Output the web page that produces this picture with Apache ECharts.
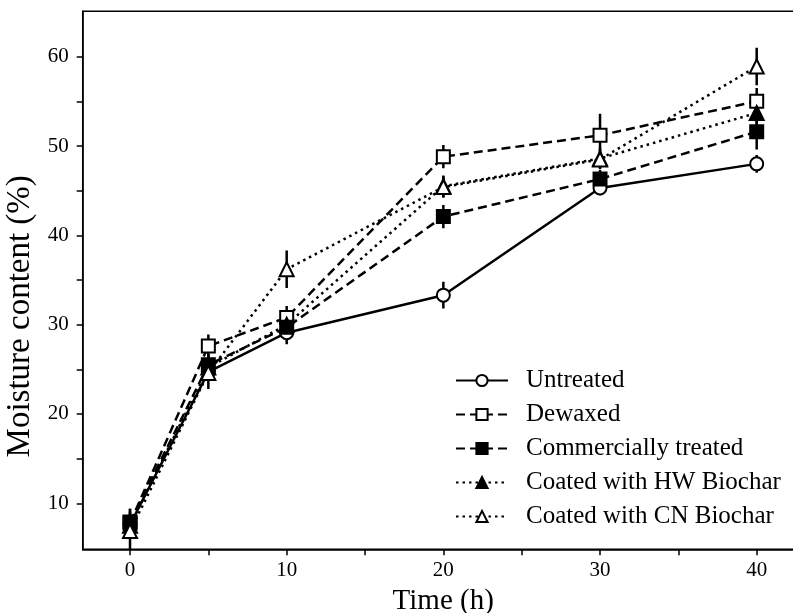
<!DOCTYPE html>
<html>
<head>
<meta charset="utf-8">
<script src="https://cdn.jsdelivr.net/npm/echarts@6/dist/echarts.min.js"></script>
<style>
html,body{margin:0;padding:0;background:#fff;}
#chart{width:793px;height:613px;}
</style>
</head>
<body>
<div id="chart"></div>
<script>
const times = [0, 5, 10, 20, 30, 40];
const seriesNames = ['Untreated', 'Dewaxed', 'Commercially treated', 'Coated with HW Biochar', 'Coated with CN Biochar'];
const untreated = [7.6, 24.7, 29.1, 33.3, 45.3, 48.0];
const untreatedErr = [1.0, 1.0, 1.3, 1.5, 0.8, 1.0];
const dewaxed = [7.8, 27.6, 30.8, 48.8, 51.2, 55.0];
const dewaxedErr = [1.2, 1.3, 1.3, 1.3, 2.4, 1.5];
const commercial = [7.9, 25.5, 29.7, 42.1, 46.3, 51.6];
const commercialErr = [1.5, 1.2, 1.0, 1.3, 1.0, 2.0];
const hwBiochar = [7.5, 25.2, 30.0, 45.5, 48.6, 53.7];
const hwErr = [1.3, 1.5, 1.2, 1.2, 1.2, 1.5];
const cnBiochar = [6.9, 24.6, 36.2, 45.4, 48.5, 58.9];
const cnErr = [2.5, 1.8, 2.1, 1.2, 1.0, 2.1];
const xTickValues = [0, 5, 10, 15, 20, 25, 30, 35, 40];
const xLabelValues = [0, 10, 20, 30, 40];
const yTickValues = [10, 15, 20, 25, 30, 35, 40, 45, 50, 55, 60];
const yLabelValues = [10, 20, 30, 40, 50, 60];

const FONT = '"Liberation Serif", "Times New Roman", serif';
const values = [untreated, dewaxed, commercial, hwBiochar, cnBiochar];
const errs = [untreatedErr, dewaxedErr, commercialErr, hwErr, cnErr];
const styles = [
  {symbol: 'circle', size: 13, fill: '#fff', type: 'solid'},
  {symbol: 'rect', size: 13, fill: '#fff', type: [9, 5]},
  {symbol: 'rect', size: 13, fill: '#000', type: [9, 5]},
  {symbol: 'triangle', size: 14, fill: '#000', type: [2.5, 4]},
  {symbol: 'triangle', size: 14, fill: '#fff', type: [2.5, 4]}
];

const series = [];
values.forEach((vals, i) => {
  const st = styles[i];
  series.push({
    type: 'custom',
    name: seriesNames[i] + ' err',
    silent: true,
    data: times.map((t, k) => [t, vals[k], errs[i][k]]),
    renderItem: function (params, api) {
      const x = api.value(0), y = api.value(1), e = api.value(2);
      const p1 = api.coord([x, y - e]);
      const p2 = api.coord([x, y + e]);
      return {
        type: 'line',
        shape: {x1: p1[0], y1: p1[1], x2: p2[0], y2: p2[1]},
        style: {stroke: '#000', lineWidth: 2.5}
      };
    },
    clip: true
  });
  series.push({
    type: 'line',
    name: seriesNames[i],
    data: times.map((t, k) => [t, vals[k]]),
    symbol: st.symbol,
    symbolSize: st.size,
    showAllSymbol: true,
    lineStyle: {color: '#000', width: 2.5, type: st.type},
    itemStyle: {color: st.fill, borderColor: '#000', borderWidth: 2},
    emphasis: {disabled: true},
    animation: false
  });
});

const chart = echarts.init(document.getElementById('chart'), null, {renderer: 'canvas'});
chart.setOption({
  animation: false,
  backgroundColor: '#fff',
  grid: {left: 82.7, top: 11.3, width: 721, height: 538, show: true, borderColor: '#000', borderWidth: 1.5, backgroundColor: 'transparent', outerBoundsMode: 'none', containLabel: false},
  legend: {
    data: seriesNames,
    orient: 'vertical',
    left: 450,
    top: 363,
    itemWidth: 52,
    itemHeight: 14,
    itemGap: 9,
    textStyle: {fontFamily: FONT, fontSize: 25, color: '#000', padding: [0, 0, 0, 13]}
  },
  xAxis: {
    type: 'value',
    min: -3.02,
    max: 43,
    name: 'Time (h)',
    nameLocation: 'middle',
    nameGap: 38,
    nameTextStyle: {fontFamily: FONT, fontSize: 29, color: '#000'},
    axisLine: {show: true, onZero: false, lineStyle: {color: '#000', width: 1.5}},
    axisTick: {show: true, inside: false, length: 6, lineStyle: {color: '#000', width: 1.5}, customValues: xTickValues},
    axisLabel: {fontFamily: FONT, fontSize: 21, color: '#000', margin: 11, customValues: xLabelValues},
    splitLine: {show: false}
  },
  yAxis: {
    type: 'value',
    min: 4.85,
    max: 65.08,
    name: 'Moisture content (%)',
    nameLocation: 'middle',
    nameGap: 41,
    nameTextStyle: {fontFamily: FONT, fontSize: 33, color: '#000', padding: [0, 72, 0, 0]},
    axisLine: {show: true, onZero: false, lineStyle: {color: '#000', width: 1.5}},
    axisTick: {show: true, inside: false, length: 6, lineStyle: {color: '#000', width: 1.5}, customValues: yTickValues},
    axisLabel: {fontFamily: FONT, fontSize: 21, color: '#000', margin: 14, customValues: yLabelValues},
    splitLine: {show: false}
  },
  series: series
});
</script>
</body>
</html>
